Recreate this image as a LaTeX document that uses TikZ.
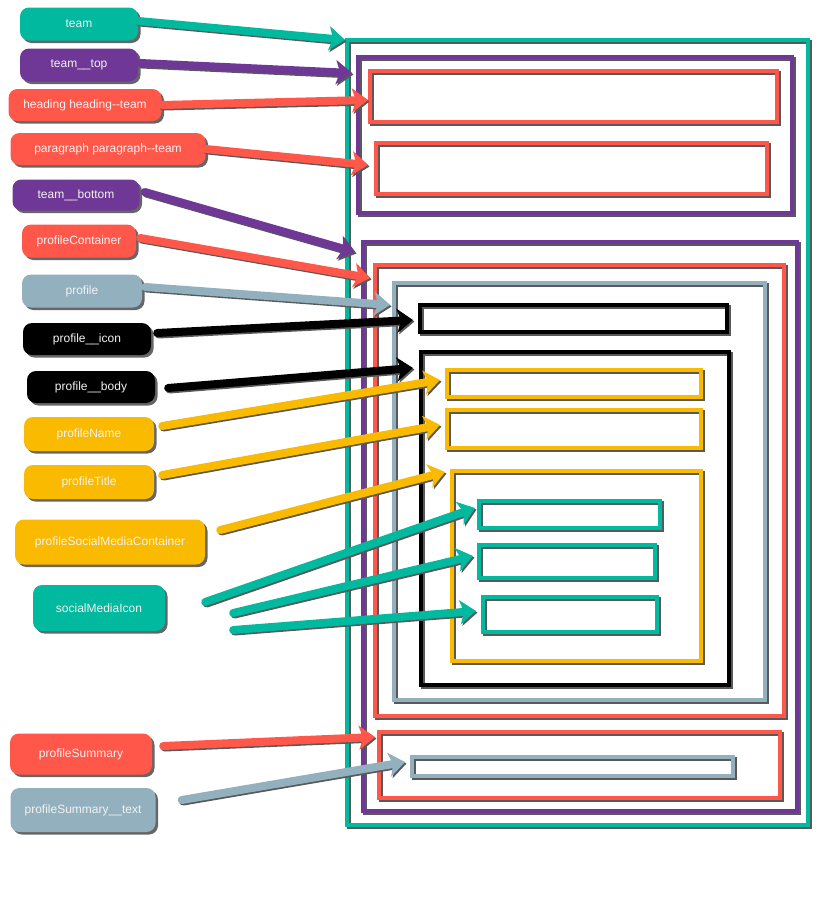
\documentclass[tikz,border=0pt]{standalone}
\usepackage{fontspec}
\setmainfont{Liberation Sans}
\usetikzlibrary{arrows.meta,shadows}
\definecolor{CSSTuerkis}{RGB}{0,185,158}
\definecolor{CSSLila}{RGB}{112,56,150}
\definecolor{CSSRot}{RGB}{255,88,74}
\definecolor{CSSGrau}{RGB}{147,176,191}
\definecolor{CSSGelb}{RGB}{250,186,0}

\begin{document}
\begin{tikzpicture}[x=1pt, y=-1pt,
  klasse/.style={rounded corners=9pt, text=white!95!black, font=\fontsize{12}{14}\selectfont,
    minimum height=33pt, inner sep=0pt,
    drop shadow={shadow xshift=2.5pt, shadow yshift=-2.5pt, opacity=.75, fill=black!80}},
  rahmen/.style={line width=4.5pt},
  schatten/.style={line width=4.5pt, draw=black!65, transform canvas={shift={(2pt,-2pt)}}},
  pfeil/.style={line width=8pt, line cap=round,
    -{Stealth[length=16pt, width=24pt, inset=4pt]}}]
\useasboundingbox (0,0) rectangle (834,918);

% die Kaesten
\foreach \farbe/\xa/\ya/\xb/\yb in {CSSTuerkis/347/40/808/825, CSSLila/358/57/792/213,
    CSSRot/370/71/777/122, CSSRot/376/143/767/194, CSSLila/363/242/797/811,
    CSSRot/375/265/784/716, CSSGrau/394/283/765/700, black/420/305/727/332,
    black/421/352/729/685, CSSGelb/447/370/701/397, CSSGelb/447/410/701/448,
    CSSGelb/452/471/701/661, CSSTuerkis/479/501/660/528, CSSTuerkis/479/545/655/578,
    CSSTuerkis/483/597/657/632, CSSRot/379/732/780/798, CSSGrau/412/757/733/776}
{
  \draw[schatten] (\xa,\ya) rectangle (\xb,\yb);
  \draw[rahmen, draw=\farbe] (\xa,\ya) rectangle (\xb,\yb);
}

% die Klassennamen
\node[klasse, fill=CSSTuerkis, minimum width=118pt] (team) at (79,24) {team};
\node[klasse, fill=CSSLila, minimum width=118pt] (teamTop) at (79,65) {team\_\_top};
\node[klasse, fill=CSSRot, minimum width=153pt, minimum height=32pt] (heading) at (85,105) {heading heading-{}-team};
\node[klasse, fill=CSSRot, minimum width=195pt, minimum height=32pt] (paragraph) at (108,149) {paragraph paragraph-{}-team};
\node[klasse, fill=CSSLila, minimum width=127pt, minimum height=31pt] (teamBottom) at (76,195) {team\_\_bottom};
\node[klasse, fill=CSSRot, minimum width=114pt] (profileContainer) at (79,241) {profileContainer};
\node[klasse, fill=CSSGrau, minimum width=120pt] (profile) at (82,291) {profile};
\node[klasse, fill=black, minimum width=128pt, minimum height=32pt] (profileIcon) at (87,339) {profile\_\_icon};
\node[klasse, fill=black, minimum width=128pt, minimum height=32pt] (profileBody) at (91,387) {profile\_\_body};
\node[klasse, fill=CSSGelb, minimum width=130pt, minimum height=34pt] (profileName) at (89,434) {profileName};
\node[klasse, fill=CSSGelb, minimum width=130pt, minimum height=34pt] (profileTitle) at (89,482) {profileTitle};
\node[klasse, fill=CSSGelb, minimum width=190pt, minimum height=45pt] (socialContainer) at (110,542) {profileSocialMediaContainer};
\node[klasse, fill=CSSTuerkis, minimum width=132pt, minimum height=46pt] (socialIcon) at (99,608) {socialMediaIcon};
\node[klasse, fill=CSSRot, minimum width=142pt, minimum height=41pt] (summary) at (81,754) {profileSummary};
\node[klasse, fill=CSSGrau, minimum width=145pt, minimum height=44pt] (summaryText) at (83,810) {profileSummary\_\_text};

% Pfeilspitzen
\coordinate (zTeam) at (345,40);
\coordinate (zTeamTop) at (352,73);
\coordinate (zHeading) at (368,100);
\coordinate (zParagraph) at (368,165);
\coordinate (zTeamBottom) at (355,252);
\coordinate (zProfileContainer) at (370,278);
\coordinate (zProfile) at (390,305);
\coordinate (zProfileIcon) at (413,320);
\coordinate (zProfileBody) at (413,368);
\coordinate (zProfileName) at (440,380);
\coordinate (zProfileTitle) at (440,425);
\coordinate (zSocialContainer) at (445,472);
\coordinate (zIconA) at (475,508);
\coordinate (zIconB) at (473,556);
\coordinate (zIconC) at (476,611);
\coordinate (zSummary) at (375,737);
\coordinate (zSummaryText) at (405,762);

% die Pfeile
\foreach \farbe/\von/\dx/\dy/\nach in {CSSTuerkis/team/0/-3/zTeam, CSSLila/teamTop/2/-2/zTeamTop,
    CSSRot/heading/0/0/zHeading, CSSRot/paragraph/0/0/zParagraph,
    CSSLila/teamBottom/5/-3/zTeamBottom, CSSRot/profileContainer/4/-3/zProfileContainer,
    CSSGrau/profile/3/-4/zProfile, black/profileIcon/6/-6/zProfileIcon,
    black/profileBody/13/1/zProfileBody, CSSGelb/profileName/8/-8/zProfileName,
    CSSGelb/profileTitle/8/-7/zProfileTitle, CSSGelb/socialContainer/15/-12/zSocialContainer,
    CSSTuerkis/socialIcon/40/-6/zIconA, CSSTuerkis/socialIcon/68/5/zIconB,
    CSSTuerkis/socialIcon/68/22/zIconC, CSSRot/summary/11/-8/zSummary,
    CSSGrau/summaryText/26/-10/zSummaryText}
{
  \draw[pfeil, black!65, transform canvas={shift={(1.5pt,-1.5pt)}}] ([shift={(\dx,\dy)}]\von.east) -- (\nach);
  \draw[pfeil, \farbe] ([shift={(\dx,\dy)}]\von.east) -- (\nach);
}
\end{tikzpicture}
\end{document}
